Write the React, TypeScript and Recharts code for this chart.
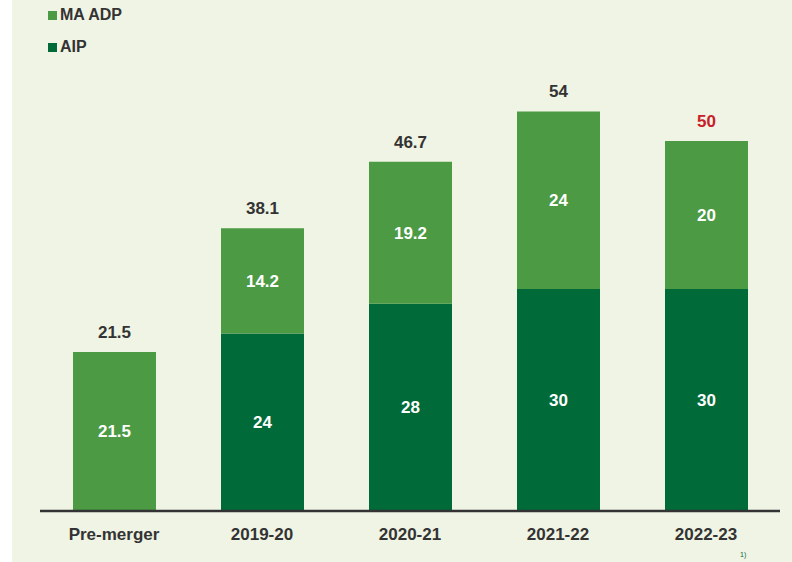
import { BarChart, Bar, XAxis, YAxis, LabelList } from 'recharts'

const categories = ['Pre-merger', '2019-20', '2020-21', '2021-22', '2022-23']
const aip = [0, 24, 28, 30, 30]
const maAdp = [21.5, 14.2, 19.2, 24, 20]
const totals = ['21.5', '38.1', '46.7', '54', '50']

const LIGHT = '#4C9A44'
const DARK = '#006B39'
const FONT = '"Liberation Sans Narrow", "Liberation Sans", Arial, sans-serif'

const data = categories.map((c, i) => ({ name: c, aip: aip[i], maAdp: maAdp[i] }))

const TotalLabel = (p: any) => {
  const { x, y, width, index } = p
  const last = index === categories.length - 1
  return (
    <text x={x + width / 2} y={y - 14} textAnchor="middle" fontFamily={FONT} fontWeight={700} fontSize={17}
      fill={last ? '#C8202A' : '#333333'}>
      {totals[index]}
    </text>
  )
}

const inner = (v: any) => (v ? String(v) : '')

export default function App() {
  return (
    <div style={{ position: 'fixed', left: 0, top: 0, width: 792, height: 562, overflow: 'hidden', background: '#fff' }}>
      <div style={{ position: 'absolute', left: 12, top: 0, right: 0, bottom: 0, background: '#F0F4E4' }} />
      <div style={{ position: 'absolute', left: 48, top: 4, fontFamily: FONT, fontWeight: 700, fontSize: 16, color: '#333' }}>
        <div style={{ display: 'flex', alignItems: 'center', height: 22 }}>
          <span style={{ width: 9, height: 9, background: LIGHT, marginRight: 3 }} />MA ADP
        </div>
        <div style={{ display: 'flex', alignItems: 'center', height: 22, marginTop: 10 }}>
          <span style={{ width: 9, height: 9, background: DARK, marginRight: 3 }} />AIP
        </div>
      </div>
      <div style={{ position: 'absolute', left: 0, top: 0 }}>
        <BarChart width={792} height={562} data={data} margin={{ top: 67, right: 12, bottom: 11, left: 40 }} barSize={83}>
          <YAxis hide domain={[0, 60]} />
          <XAxis dataKey="name" height={40} axisLine={{ stroke: '#333333', strokeWidth: 2.5 }} tickLine={false}
            tick={{ fill: '#333333', fontSize: 17, fontWeight: 700, fontFamily: FONT }} dy={9} />
          <Bar dataKey="aip" stackId="a" fill={DARK} isAnimationActive={false}>
            <LabelList dataKey="aip" position="center" formatter={inner} fill="#ffffff" fontSize={17} fontWeight={700} fontFamily={FONT} />
          </Bar>
          <Bar dataKey="maAdp" stackId="a" fill={LIGHT} isAnimationActive={false}>
            <LabelList dataKey="maAdp" position="center" formatter={inner} fill="#ffffff" fontSize={17} fontWeight={700} fontFamily={FONT} />
            <LabelList dataKey="maAdp" content={TotalLabel} />
          </Bar>
        </BarChart>
      </div>
      <div style={{ position: 'absolute', left: 740, top: 551, fontSize: 7, color: DARK, fontFamily: FONT }}>1)</div>
    </div>
  )
}
